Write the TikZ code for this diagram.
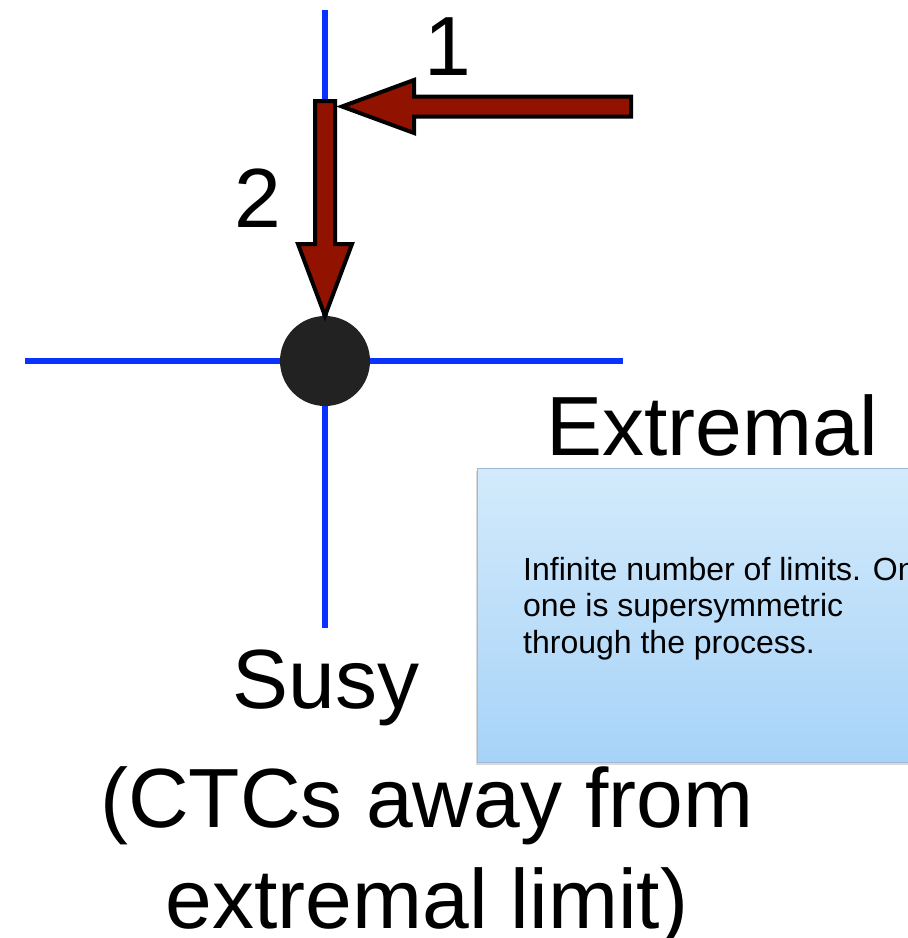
\documentclass[tikz,border=0pt]{standalone}
\usepackage{fontspec}
\setmainfont{Liberation Sans}
\usetikzlibrary{shadows}
\definecolor{axisBlue}{HTML}{0A32FF}
\definecolor{arrowRed}{HTML}{921200}
\definecolor{dotInk}{HTML}{222222}
\definecolor{boxTop}{HTML}{D3EAFB}
\definecolor{boxBot}{HTML}{A7D3F8}
\definecolor{boxEdge}{HTML}{9DB9D3}

\begin{document}
\begin{tikzpicture}[x=1pt,y=-1pt,
  axis/.style={axisBlue,line width=6pt},
  fatarrow/.style={draw=black,fill=arrowRed,line width=4pt,line join=miter},
  big/.style={font=\fontsize{84}{101}\selectfont,inner sep=0pt},
  notebox/.style={draw=boxEdge,line width=1.2pt,top color=boxTop,bottom color=boxBot,
    drop shadow={shadow xshift=-2pt,shadow yshift=-2pt,opacity=0.3}}]
\useasboundingbox (0,0) rectangle (908,938);
% axes
\coordinate (up) at (325,10);
\coordinate (down) at (325,628);
\coordinate (left) at (25,361);
\coordinate (right) at (623,361);
\draw[axis] (up) -- (down);
\draw[axis] (left) -- (right);
\node[circle,fill=dotInk,minimum size=90pt,inner sep=0pt] (P) at (325,361) {};
% arrow 2
\draw[fatarrow] (315,101) -- (335,101) -- (335,244) -- (352,244) -- (P.north)
  -- (298,244) -- (315,244) -- cycle;
% arrow 1
\draw[fatarrow] (631,96.5) -- (414,96.5) -- (414,80) -- (342,106.5) -- (414,133)
  -- (414,116.5) -- (631,116.5) -- cycle;
\node[big,anchor=base] (one) at (448,75) {1};
\node[big,anchor=base] (two) at (258,227) {2};
% labels
\node[big,anchor=base] (extremal) at (712,455) {Extremal};
\node[big,anchor=base] (susy) at (326,708) {Susy};
\node[big,anchor=base,align=center] (ctc) at (427,928) {(CTCs away from\\extremal limit)};
% note
\begin{scope}
\clip (0,0) rectangle (908,938);
\node[notebox,anchor=north west,minimum width=520pt,minimum height=294pt] (note) at (477,468) {};
\node[anchor=base west,inner sep=0pt,align=left,font=\fontsize{32}{36.5}\selectfont]
  (notetext) at (523,653) {Infinite number of limits. Only\\one is supersymmetric\\through the process.};
\end{scope}
\end{tikzpicture}
\end{document}
